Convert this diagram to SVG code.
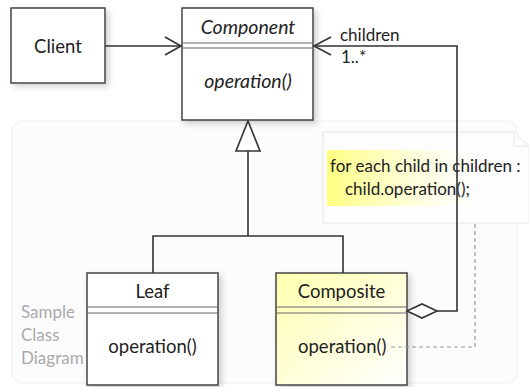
<svg xmlns="http://www.w3.org/2000/svg" width="529" height="387" viewBox="0 0 529 387">
<style>
.box{fill:#fff;stroke:#444;stroke-width:1.5}
.sep{stroke:#666;stroke-width:1}
.t{font-family:Lato,"Open Sans","Noto Sans",sans-serif;font-size:18.5px;fill:#222}
.it{font-style:italic;font-size:19.5px}
.n{font-size:17px}
.line{fill:none;stroke:#333;stroke-width:1.6}
.dash{fill:none;stroke:#999;stroke-width:1.2;stroke-dasharray:4 3}
.gray{font-family:Lato,"Open Sans",sans-serif;font-size:17px;fill:#aaa}
</style>
<defs>
<filter id="sh" x="-10%" y="-10%" width="130%" height="130%">
<feDropShadow dx="3" dy="3" stdDeviation="3" flood-color="#000" flood-opacity="0.18"/>
</filter>
<linearGradient id="yel" x1="0" y1="0" x2="1" y2="1">
<stop offset="0" stop-color="#ffffb0"/>
<stop offset="1" stop-color="#ffffff"/>
</linearGradient>
<linearGradient id="hl" x1="0" y1="0" x2="1" y2="0">
<stop offset="0" stop-color="#ffff80"/>
<stop offset="0.7" stop-color="#ffffe0" stop-opacity="0.6"/>
<stop offset="1" stop-color="#ffffff" stop-opacity="0"/>
</linearGradient>
</defs>
<rect width="529" height="387" fill="#fff"/>
<g id="frame">
<rect x="12" y="121" width="505" height="262" rx="10" fill="#fcfcfc" stroke="#efefef"/>
<text class="gray" x="21" y="318">Sample</text>
<text class="gray" x="21" y="341">Class</text>
<text class="gray" x="21" y="364">Diagram</text>
</g>
<g id="note">
<path d="M323 132 H514 L529 146 V223 H323 Z" fill="#fdfdfd" stroke="#e6e6e6"/>
<path d="M514 132 V146 H529" fill="none" stroke="#e6e6e6"/>
<rect x="327" y="150" width="160" height="56" fill="url(#hl)"/>
<text class="t n" x="330" y="172">for each child in children :</text>
<text class="t n" x="345" y="195">child.operation();</text>
</g>
<g id="client">
<rect class="box" x="11" y="8" width="94" height="75" filter="url(#sh)"/>
<text class="t" x="58" y="53" text-anchor="middle">Client</text>
</g>
<g id="component">
<rect class="box" x="182" y="8" width="131" height="112" filter="url(#sh)"/>
<line class="sep" x1="182" y1="43" x2="313" y2="43"/>
<line class="sep" x1="182" y1="48" x2="313" y2="48"/>
<text class="t it" x="248" y="34" text-anchor="middle">Component</text>
<text class="t it" x="248" y="88" text-anchor="middle">operation()</text>
</g>
<g id="leaf">
<rect class="box" x="87" y="273" width="131" height="112" filter="url(#sh)"/>
<line class="sep" x1="87" y1="307" x2="218" y2="307"/>
<line class="sep" x1="87" y1="313" x2="218" y2="313"/>
<text class="t" x="152.5" y="298" text-anchor="middle">Leaf</text>
<text class="t" x="152.5" y="353" text-anchor="middle">operation()</text>
</g>
<g id="composite">
<rect class="box" x="276" y="273" width="131" height="112" style="fill:url(#yel)" filter="url(#sh)"/>
<line class="sep" x1="276" y1="307" x2="407" y2="307"/>
<line class="sep" x1="276" y1="313" x2="407" y2="313"/>
<text class="t" x="341.5" y="298" text-anchor="middle">Composite</text>
<text class="t" x="298" y="353">operation()</text>
</g>
<g id="connectors">
<line class="line" x1="105" y1="46" x2="181" y2="46"/>
<path class="line" d="M165 37 L181 46 L165 55"/>
<path class="line" d="M437 311 H457 V46 H314"/>
<path class="line" d="M331 37 L314 46 L331 55"/>
<path d="M407 311 L422 304 L437 311 L422 318 Z" fill="#fff" stroke="#333" stroke-width="1.6"/>
<path class="line" d="M248 151 V236 M153 273 V236 H343 V273"/>
<path d="M248 121 L260 151 H236 Z" fill="#fff" stroke="#333" stroke-width="1.6"/>
<path class="dash" d="M475 224 V347 H390"/>
<text class="t n" x="340" y="41">children</text>
<text class="t n" x="341" y="63">1..*</text>
</g>
</svg>
